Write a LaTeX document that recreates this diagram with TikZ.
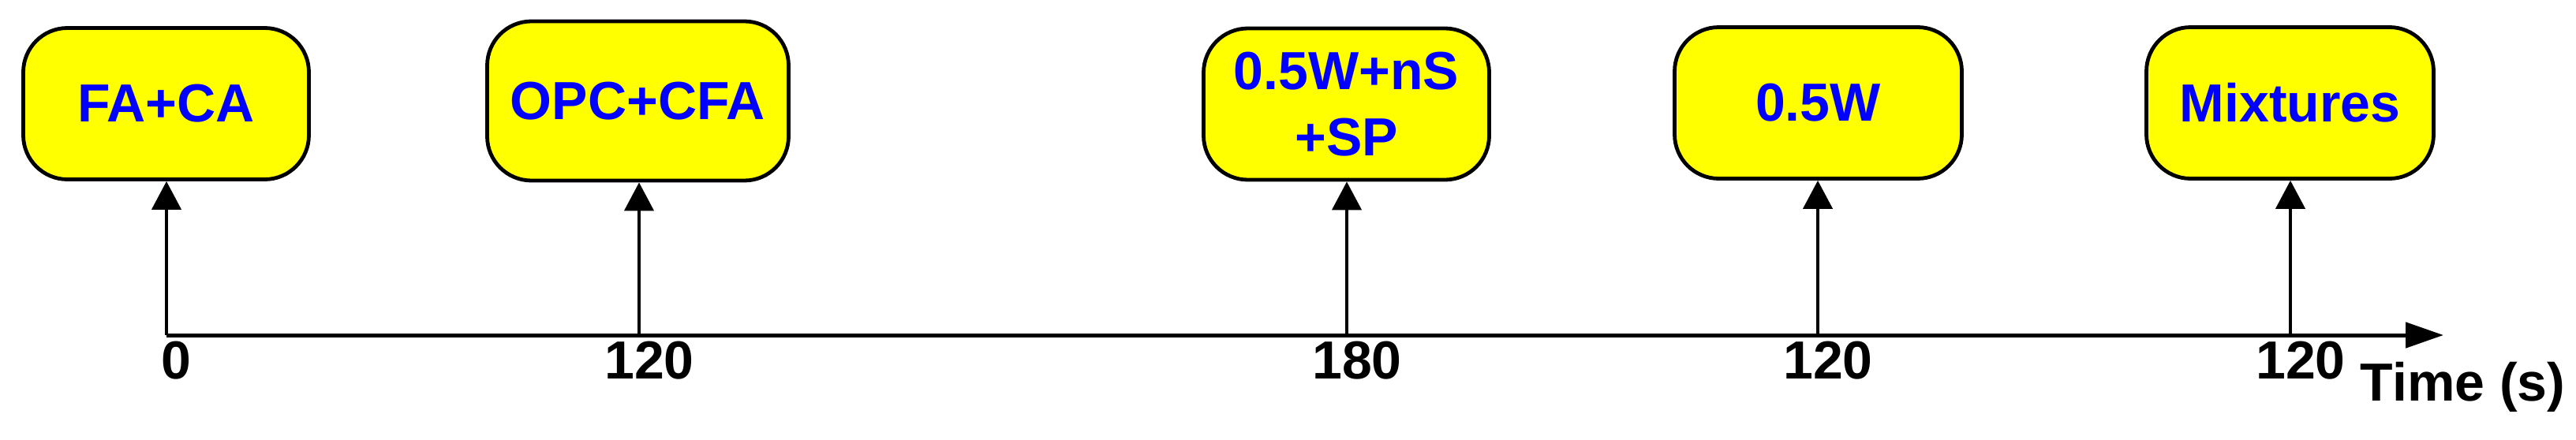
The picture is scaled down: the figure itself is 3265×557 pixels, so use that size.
\documentclass[tikz,border=0pt]{standalone}
\usepackage{fontspec}
\setmainfont{Liberation Sans}
\usepackage{xcolor}
\usepackage{tikz}
\usetikzlibrary{arrows.meta,positioning}

\definecolor{stageyellow}{RGB}{255,255,0}
\definecolor{stageblue}{RGB}{0,0,255}

\begin{document}
\begin{tikzpicture}[x=0.25pt,y=0.25pt,yscale=-1,
	stage/.style={draw=black,line width=1.2pt,fill=stageyellow,rounded corners=14pt,inner sep=0pt,
		minimum width=90.5pt,minimum height=48pt,text=stageblue,align=center,
		font=\fontsize{17}{21}\selectfont\bfseries},
	feed/.style={line width=1.1pt,-{Triangle[length=9pt,width=9.25pt]}},
	timeaxis/.style={line width=1.25pt,-{Triangle[length=12pt,width=8pt]}},
	tlabel/.style={inner sep=0pt,font=\fontsize{17}{21}\selectfont\bfseries}]
	%set diagram size to 3265 x 557
	\useasboundingbox (0,0) rectangle (3265,557);

	%Shape: Rounded Rectangle [id:faca]
	\node [stage] (faca) at (210.5,131.5) {FA+CA};
	%Shape: Rounded Rectangle [id:opccfa]
	\node [stage,minimum width=95.5pt,minimum height=50.5pt] (opccfa) at (808.5,128) {OPC+CFA};
	%Shape: Rounded Rectangle [id:halfwns]
	\node [stage] (halfwns) at (1706.5,132) {0.5W+nS\\+SP};
	%Shape: Rounded Rectangle [id:halfw]
	\node [stage,minimum width=91pt] (halfw) at (2304.5,130.5) {0.5W};
	%Shape: Rounded Rectangle [id:mix]
	\node [stage,minimum width=91pt] (mix) at (2902.5,130.5) {Mixtures};

	%Axis points
	\coordinate (t0) at (211,425);
	\coordinate (t1) at (810,425);
	\coordinate (t2) at (1707,425);
	\coordinate (t3) at (2304,425);
	\coordinate (t4) at (2903,425);
	\coordinate (tend) at (3097,425);

	%Straight Lines [id:axis]
	\draw [timeaxis] (t0) -- (tend) ;

	%Straight Lines [id:feeds]
	\draw [feed] (t0) -- (t0 |- faca.south) ;
	\draw [feed] (t1) -- (t1 |- opccfa.south) ;
	\draw [feed] (t2) -- (t2 |- halfwns.south) ;
	\draw [feed] (t3) -- (t3 |- halfw.south) ;
	\draw [feed] (t4) -- (t4 |- mix.south) ;

	% Text Node
	\node [tlabel] (l0) at (223,457) {0};
	% Text Node
	\node [tlabel] (l1) at (823,457) {120};
	% Text Node
	\node [tlabel] (l2) at (1720,457) {180};
	% Text Node
	\node [tlabel] (l3) at (2317,457) {120};
	% Text Node
	\node [tlabel] (l4) at (2916,457) {120};
	% Text Node
	\node [tlabel,anchor=base west] (tname) at (2991,508) {Time (s)};
\end{tikzpicture}
\end{document}
